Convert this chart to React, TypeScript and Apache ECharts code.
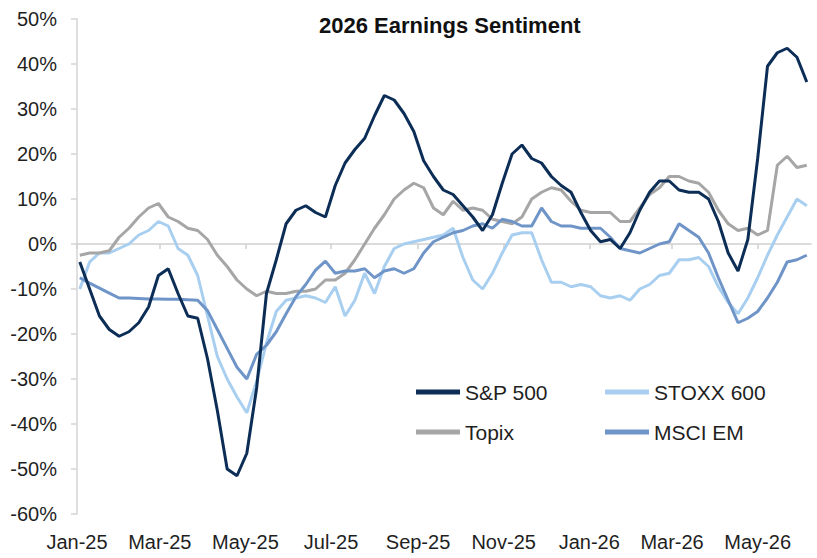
import React, { useEffect, useRef } from "react";
import * as echarts from "echarts";

// Weekly observation dates
const dates: string[] = [
  "2025-01-03", "2025-01-10", "2025-01-17", "2025-01-24", "2025-01-31",
  "2025-02-07", "2025-02-14", "2025-02-21", "2025-02-28",
  "2025-03-07", "2025-03-14", "2025-03-21", "2025-03-28",
  "2025-04-04", "2025-04-11", "2025-04-18", "2025-04-25",
  "2025-05-02", "2025-05-09", "2025-05-16", "2025-05-23", "2025-05-30",
  "2025-06-06", "2025-06-13", "2025-06-20", "2025-06-27",
  "2025-07-04", "2025-07-11", "2025-07-18", "2025-07-25",
  "2025-08-01", "2025-08-08", "2025-08-15", "2025-08-22", "2025-08-29",
  "2025-09-05", "2025-09-12", "2025-09-19", "2025-09-26",
  "2025-10-03", "2025-10-10", "2025-10-17", "2025-10-24", "2025-10-31",
  "2025-11-07", "2025-11-14", "2025-11-21", "2025-11-28",
  "2025-12-05", "2025-12-12", "2025-12-19", "2025-12-26",
  "2026-01-02", "2026-01-09", "2026-01-16", "2026-01-23", "2026-01-30",
  "2026-02-06", "2026-02-13", "2026-02-20", "2026-02-27",
  "2026-03-06", "2026-03-13", "2026-03-20", "2026-03-27",
  "2026-04-03", "2026-04-10", "2026-04-17", "2026-04-24",
  "2026-05-01", "2026-05-08", "2026-05-15", "2026-05-22", "2026-05-29",
  "2026-06-05",
];

const sp500: number[] = [
  -4, -10, -16, -19, -20.5, -19.5, -17.5, -14, -7, -5.5,
  -11, -16, -16.5, -25.5, -37, -50, -51.5, -46.5, -32, -11,
  -3.5, 4.5, 7.5, 8.5, 7, 6, 13, 18, 21, 23.5,
  28.5, 33, 32, 29, 25, 18.5, 15, 12, 11, 8.5,
  6, 3, 6.5, 13.5, 20, 22, 19, 18, 15, 13,
  11.5, 7, 3, 0.5, 1, -1, 2.5, 7.5, 11.5, 14,
  14, 12, 11.5, 11.5, 10, 5, -2, -6, 1, 19,
  39.5, 42.5, 43.5, 41.5, 36,
];

const topix: number[] = [
  -2.5, -2, -2, -1.5, 1.5, 3.5, 6, 8, 9, 6,
  5, 3.5, 3, 1, -2.5, -5, -8, -10, -11.5, -10.5,
  -11, -11, -10.5, -10.5, -10, -8, -8, -6.5, -3.5, 0,
  3.5, 6.5, 10, 12, 13.5, 12.5, 8, 6.5, 9.5, 7.5,
  8, 7.5, 5.5, 5, 4.5, 6, 10, 11.5, 12.5, 12,
  9.5, 7.5, 7, 7, 7, 5, 5, 8, 11, 12.5,
  15, 15, 14, 13.5, 11.5, 7.5, 4.5, 3, 3.5, 2,
  3, 17.5, 19.5, 17, 17.5,
];

const stoxx600: number[] = [
  -10, -4, -2, -2, -1, 0, 2, 3, 5, 4,
  -1, -2.5, -7, -16, -25, -30, -34, -37.5, -30.5, -22,
  -15, -12.5, -12, -11.5, -12, -13, -9.5, -16, -12.5, -6.5,
  -11, -5, -1, 0, 0.5, 1, 1.5, 2, 3.5, -3,
  -8, -10, -6.5, -2, 2, 2.5, 2.5, -3.5, -8.5, -8.5,
  -9.5, -9, -9.5, -11.5, -12, -11.5, -12.5, -10, -9, -7,
  -6.5, -3.5, -3.5, -3, -5, -9.5, -13, -15.5, -12, -7.5,
  -2.5, 2, 6, 10, 8.5,
];

const msciEm: number[] = [
  -7.5, -8.7, -9.8, -10.9, -12, -12, -12.1, -12.2, -12.2, -12.3,
  -12.3, -12.4, -12.5, -14.8, -19, -23.2, -27.4, -30, -24.5, -22.5,
  -19.5, -15.5, -11.7, -9, -5.8, -3.8, -6.5, -6, -6, -5.5,
  -7.5, -6, -5.5, -6.5, -5.5, -2, 0.5, 1.5, 2.5, 3,
  4, 4.5, 3.5, 5.5, 5, 4, 4, 8, 5, 4,
  4, 3.5, 3.5, 3.5, 1.5, -1, -1.5, -2, -1, 0,
  0.5, 4.5, 3, 1.5, -2, -7.5, -12.5, -17.5, -16.5, -15,
  -12, -8.5, -4, -3.5, -2.5,
];

const monthTicks: string[] = [
  "2025-01-01", "2025-03-01", "2025-05-01", "2025-07-01", "2025-09-01",
  "2025-11-01", "2026-01-01", "2026-03-01", "2026-05-01",
];
const monthLabels: string[] = [
  "Jan-25", "Mar-25", "May-25", "Jul-25", "Sep-25",
  "Nov-25", "Jan-26", "Mar-26", "May-26",
];

const xStart = "2025-01-01";
const xEnd = "2026-06-08";

const FONT = "'Liberation Sans', Arial, Helvetica, sans-serif";
const TEXT = "#1f1f1f";

const toTs = (s: string): number => {
  const [y, m, d] = s.split("-").map(Number);
  return Date.UTC(y, m - 1, d);
};

export default function App() {
  const ref = useRef<HTMLDivElement>(null);

  useEffect(() => {
    if (!ref.current) return;
    const chart = echarts.init(ref.current, null, { renderer: "svg" });
    const tickTs = monthTicks.map(toTs);
    const pair = (vals: number[]) => dates.map((d, i) => [toTs(d), vals[i]]);
    const xMin = toTs(xStart);
    const xMax = toTs(xEnd);

    const lineSeries = (name: string, vals: number[], color: string) => ({
      name,
      type: "line",
      data: pair(vals),
      xAxisIndex: 0,
      showSymbol: false,
      symbol: "none",
      smooth: false,
      color,
      lineStyle: { width: 3, color },
      emphasis: { disabled: true },
    });

    const legendBase = {
      top: 376,
      orient: "vertical",
      icon: "rect",
      itemWidth: 44,
      itemHeight: 5,
      itemGap: 18,
      textStyle: { fontFamily: FONT, fontSize: 21, color: TEXT, lineHeight: 22 },
    };

    chart.setOption({
      animation: false,
      backgroundColor: "#ffffff",
      title: {
        text: "2026 Earnings Sentiment",
        left: 314,
        top: 9,
        textStyle: { fontFamily: FONT, fontSize: 22, fontWeight: "bold", color: "#111111" },
      },
      legend: [
        { ...legendBase, left: 411, data: ["S&P 500", "Topix"] },
        { ...legendBase, left: 600, data: ["STOXX 600", "MSCI EM"] },
      ],
      grid: { left: 77, right: 6, top: 19, bottom: 44, containLabel: false },
      xAxis: [
        {
          type: "value",
          min: xMin,
          max: xMax,
          position: "bottom",
          axisLine: { show: true, onZero: true, lineStyle: { color: "#cfcfcf", width: 1.5 } },
          axisTick: { show: true, length: 5, customValues: tickTs, lineStyle: { color: "#cfcfcf", width: 1.5 } },
          axisLabel: { show: false },
          splitLine: { show: false },
        },
        {
          type: "value",
          min: xMin,
          max: xMax,
          position: "bottom",
          axisLine: { show: false, onZero: false },
          axisTick: { show: false },
          splitLine: { show: false },
          axisLabel: {
            show: true,
            customValues: tickTs,
            margin: 18,
            fontFamily: FONT,
            fontSize: 20,
            color: TEXT,
            formatter: (v: number) => {
              const i = tickTs.indexOf(v);
              return i >= 0 ? monthLabels[i] : "";
            },
          },
        },
      ],
      yAxis: {
        type: "value",
        min: -60,
        max: 50,
        interval: 10,
        axisLine: { show: true, lineStyle: { color: "#d4d4d4", width: 1.5 } },
        axisTick: { show: true, length: 6, lineStyle: { color: "#d4d4d4", width: 1.5 } },
        splitLine: { show: false },
        axisLabel: {
          margin: 20,
          fontFamily: FONT,
          fontSize: 20,
          color: TEXT,
          formatter: (v: number) => `${v}%`,
        },
      },
      series: [
        lineSeries("STOXX 600", stoxx600, "#a9cff0"),
        lineSeries("Topix", topix, "#a6a6a6"),
        lineSeries("MSCI EM", msciEm, "#6f95c8"),
        lineSeries("S&P 500", sp500, "#0c2d56"),
      ],
    });

    return () => chart.dispose();
  }, []);

  return (
    <div
      ref={ref}
      style={{ position: "absolute", left: 0, top: 0, width: 817, height: 558 }}
    />
  );
}
